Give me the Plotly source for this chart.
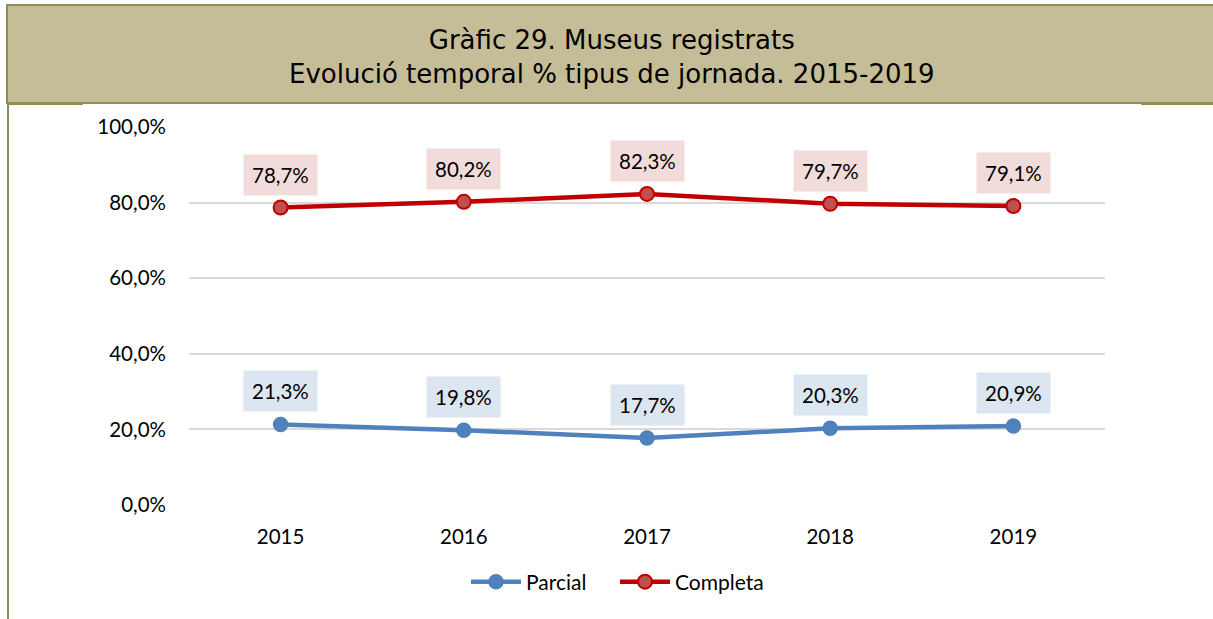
import plotly.graph_objects as go

years = ["2015", "2016", "2017", "2018", "2019"]
parcial = [21.3, 19.8, 17.7, 20.3, 20.9]
completa = [78.7, 80.2, 82.3, 79.7, 79.1]
y_ticks = [0, 20, 40, 60, 80, 100]
y_tick_text = ["0,0%", "20,0%", "40,0%", "60,0%", "80,0%", "100,0%"]

W, H = 1213, 619
L, R, T, B = 189, 1105, 127, 505


def px(x):
    return (x - L) / (R - L)


def py(y):
    return (B - y) / (B - T)


def fmt(v):
    return f"{v:.1f}".replace(".", ",") + "%"


LAB_FONT = "Lato"
FS = 20.5

fig = go.Figure()
fig.add_trace(go.Scatter(
    x=years, y=parcial, name="Parcial", mode="lines+markers",
    line=dict(color="#4F81BD", width=4.5),
    marker=dict(size=14, color="#4F81BD", line=dict(color="#4F81BD", width=1.5)),
))
fig.add_trace(go.Scatter(
    x=years, y=completa, name="Completa", mode="lines+markers",
    line=dict(color="#C00000", width=4.5),
    marker=dict(size=14, color="#C0504D", line=dict(color="#C00000", width=2)),
))

for series, bg in ((parcial, "#DCE6F1"), (completa, "#F2DCDB")):
    for i, v in enumerate(series):
        fig.add_annotation(
            xref="x", yref="y", x=i, y=v, text=fmt(v), showarrow=False, yshift=33,
            bgcolor=bg, borderpad=8,
            font=dict(family=LAB_FONT, size=FS, color="#000000"),
        )

# title box
fig.add_shape(type="rect", xref="paper", yref="paper",
              x0=px(7), x1=px(1216), y0=py(103), y1=py(5),
              fillcolor="#C4BD97", line=dict(color="#948A54", width=2), layer="below")
# left border line
fig.add_shape(type="line", xref="paper", yref="paper",
              x0=px(8), x1=px(8), y0=py(103), y1=py(622),
              line=dict(color="#948A54", width=2))
# thicker bottom segments
fig.add_shape(type="line", xref="paper", yref="paper",
              x0=px(7), x1=px(83), y0=py(103.5), y1=py(103.5),
              line=dict(color="#948A54", width=3))
fig.add_shape(type="line", xref="paper", yref="paper",
              x0=px(1141), x1=px(1216), y0=py(103.5), y1=py(103.5),
              line=dict(color="#948A54", width=3))

fig.add_annotation(
    xref="paper", yref="paper", x=px(612), y=py(57), xanchor="center", yanchor="middle",
    text="Gràfic 29. Museus registrats<br>Evolució temporal % tipus de jornada. 2015-2019",
    showarrow=False, align="center",
    font=dict(family="DejaVu Sans", size=26, color="#000000"),
)

fig.update_layout(
    width=W, height=H,
    margin=dict(l=L, r=W - R, t=T, b=H - B),
    paper_bgcolor="white", plot_bgcolor="white",
    showlegend=True,
    legend=dict(orientation="h", xanchor="center", yanchor="middle",
                x=px(615), y=py(582), itemwidth=50, entrywidth=84,
                entrywidthmode="pixels",
                font=dict(family=LAB_FONT, size=21, color="#000000")),
    font=dict(family=LAB_FONT, size=FS, color="#000000"),
)
fig.update_xaxes(type="category", range=[-0.5, 4.5], showgrid=False, showline=False,
                 zeroline=False, ticks="", ticklabelstandoff=17,
                 tickfont=dict(family=LAB_FONT, size=FS))
fig.update_yaxes(range=[0, 100], tickvals=y_ticks, ticktext=y_tick_text,
                 showgrid=True, gridcolor="#D9D9D9", gridwidth=1.5,
                 zeroline=False, showline=False, ticks="", ticklabelstandoff=22,
                 tickfont=dict(family=LAB_FONT, size=FS))

fig.write_html("out.html", config={"displayModeBar": False},
               post_script="document.body.style.margin='0';")
